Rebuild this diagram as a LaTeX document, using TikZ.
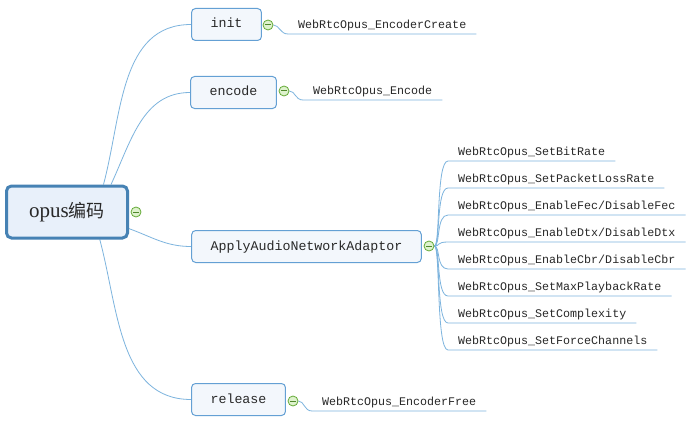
\documentclass[tikz,border=0pt]{standalone}
\usepackage{fontspec}
\setmainfont{Liberation Serif}
\setmonofont{Liberation Mono}
\newfontfamily\cjk{Noto Sans CJK SC}
\definecolor{map_root}{RGB}{70, 130, 180}
\definecolor{map_rootfill}{RGB}{232, 240, 250}
\definecolor{map_box}{RGB}{100, 160, 212}
\definecolor{map_boxfill}{RGB}{243, 247, 252}
\definecolor{map_line}{RGB}{125, 180, 222}
\definecolor{map_fold}{RGB}{100, 170, 55}
\definecolor{map_foldfill}{RGB}{222, 242, 205}
\definecolor{map_text}{RGB}{40, 40, 40}
\usepackage{tikz}
\usetikzlibrary{arrows.meta, positioning, calc, backgrounds}

\tikzset{
  rootbox/.style={draw=map_root, line width=3pt, fill=map_rootfill, rounded corners=5pt,
                  minimum width=121pt, minimum height=52pt, text=map_text,
                  font=\fontsize{21}{23}\selectfont},
  topic/.style={draw=map_box, line width=1pt, fill=map_boxfill, rounded corners=4pt,
                minimum height=32pt, inner xsep=19pt, text=map_text,
                text height=10pt, text depth=3pt, font=\ttfamily\fontsize{13.3}{15}\selectfont},
  leaf/.style={anchor=south west, inner xsep=10pt, inner ysep=3pt, text=map_text,
               text height=8pt, text depth=2pt, font=\ttfamily\fontsize{11.67}{13}\selectfont},
  fold/.style={circle, draw=map_fold, fill=map_foldfill, line width=0.8pt,
               minimum size=10pt, inner sep=0pt,
               path picture={\draw[map_fold!80!black, line width=1pt]
                 ([xshift=-3pt]path picture bounding box.center) --
                 ([xshift=3pt]path picture bounding box.center);}},
  link/.style={draw=map_line, line width=0.8pt},
}

\begin{document}
\begin{tikzpicture}[x=1pt, y=1pt]
    \useasboundingbox (0,0) rectangle (693,424);

    % central topic
    \node[rootbox] (root) at (67,212) {opus{\cjk\fontsize{18}{20}\selectfont 编码}};
    \node[fold]    (rootc) at (136,212) {};

    % main branches
    \node[topic] (init)    at (226.5,399.5) {init};
    \node[topic] (encode)  at (233.5,331.5) {encode};
    \node[topic] (adaptor) at (306.5,177.5) {ApplyAudioNetworkAdaptor};
    \node[topic] (release) at (238.5,24.5)  {release};

    \node[fold] (initc)    at (268,399) {};
    \node[fold] (encodec)  at (284,333) {};
    \node[fold] (adaptorc) at (429,178) {};
    \node[fold] (releasec) at (293,23)  {};

    % leaves
    \node[leaf] (create) at (288,390) {WebRtcOpus\_EncoderCreate};
    \node[leaf] (enc)    at (303,324) {WebRtcOpus\_Encode};
    \node[leaf] (free)   at (312,13)  {WebRtcOpus\_EncoderFree};

    \node[leaf] (bitrate)  at (448,263) {WebRtcOpus\_SetBitRate};
    \node[leaf] (loss)     at (448,236) {WebRtcOpus\_SetPacketLossRate};
    \node[leaf] (fec)      at (448,209) {WebRtcOpus\_EnableFec/DisableFec};
    \node[leaf] (dtx)      at (448,182) {WebRtcOpus\_EnableDtx/DisableDtx};
    \node[leaf] (cbr)      at (448,155) {WebRtcOpus\_EnableCbr/DisableCbr};
    \node[leaf] (playback) at (448,128) {WebRtcOpus\_SetMaxPlaybackRate};
    \node[leaf] (complex)  at (448,101) {WebRtcOpus\_SetComplexity};
    \node[leaf] (channels) at (448,74)  {WebRtcOpus\_SetForceChannels};

    \begin{scope}[on background layer]
      \fill[white] (0,0) rectangle (693,424);

      \draw[link] (root.37)  to[out=75, in=180]  (init.west);
      \draw[link] (root.32)  to[out=65, in=180]  (encode.west);
      \draw[link] (root.-15) to[out=-20, in=180] (adaptor.west);
      \draw[link] (root.-40) to[out=-75, in=180] (release.west);

      \draw[link] (initc.east)    .. controls +(6,0) and +(-8,0) .. (create.south west) -- (create.south east);
      \draw[link] (encodec.east)  .. controls +(6,0) and +(-8,0) .. (enc.south west) -- (enc.south east);
      \draw[link] (releasec.east) .. controls +(6,0) and +(-8,0) .. (free.south west) -- (free.south east);

      \foreach \leafname in {bitrate, loss, fec, dtx, cbr, playback, complex, channels}
        \draw[link] (adaptorc.east) .. controls +(6,0) and +(-12,0) .. (\leafname.south west)
                    -- (\leafname.south east);
    \end{scope}
\end{tikzpicture}
\end{document}
